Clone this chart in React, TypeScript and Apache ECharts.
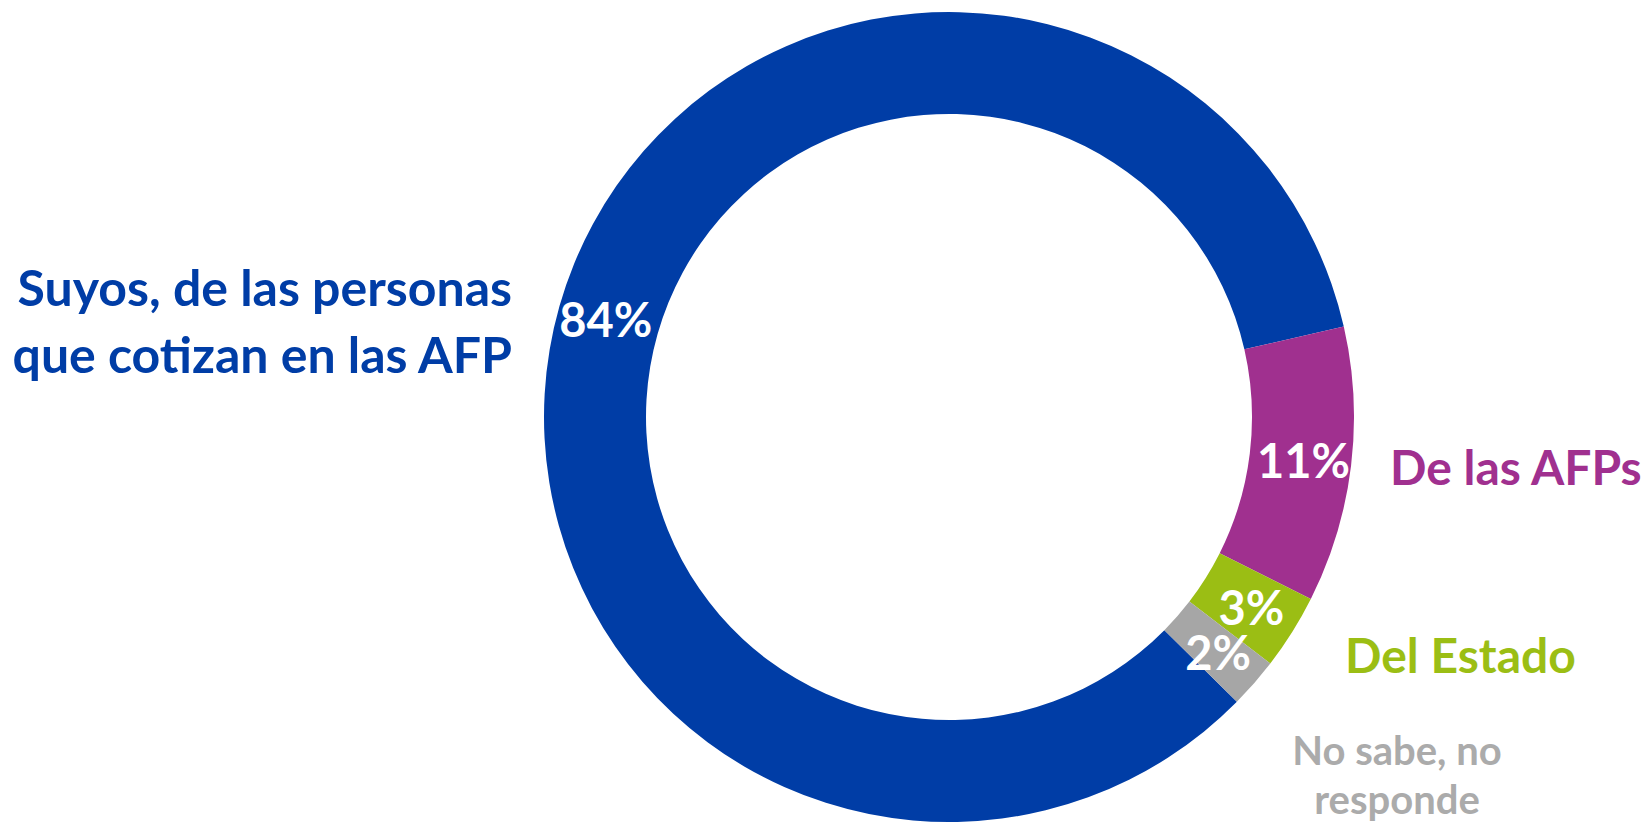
import React, { useEffect, useRef } from "react";
import * as echarts from "echarts";

const categories = ["Suyos, de las personas\nque cotizan en las AFP", "De las AFPs", "Del Estado", "No sabe, no\nresponde"];
const values = [84, 11, 3, 2];
const sliceColors = ["#003DA6", "#A0308F", "#9BBE14", "#A6A6A6"];
const labelColors = ["#003DA6", "#A0308F", "#9BBE14", "#ABABAB"];

export default function App() {
  const ref = useRef<HTMLDivElement>(null);
  useEffect(() => {
    document.body.style.margin = "0";
    const chart = echarts.init(ref.current!, null, { renderer: "svg" });
    const font = "Lato";
    const labelSpecs = [
      { x: 512, y: 320, align: "right", size: 50, lh: 67 },
      { x: 1390, y: 466, align: "left", size: 48, lh: 67 },
      { x: 1345, y: 654, align: "left", size: 48, lh: 67 },
      { x: 1397, y: 774, align: "center", size: 40, lh: 49 },
    ];
    chart.setOption({
      animation: false,
      series: [
        {
          type: "pie",
          center: [949, 417],
          radius: [303, 405],
          startAngle: 315.3,
          clockwise: true,
          silent: true,
          avoidLabelOverlap: false,
          labelLayout: { hideOverlap: false },
          data: categories.map((c, i) => ({
            name: c,
            value: values[i],
            itemStyle: { color: sliceColors[i] },
          })),
          label: {
            show: true,
            position: "inside",
            formatter: "{c}%",
            color: "#ffffff",
            fontFamily: font,
            fontWeight: "bold",
            fontSize: 47,
          },
          labelLine: { show: false },
          emphasis: { disabled: true },
        },
      ],
      graphic: categories.map((c, i) => ({
        type: "text",
        x: labelSpecs[i].x,
        y: labelSpecs[i].y,
        style: {
          text: c,
          fill: labelColors[i],
          font: `bold ${labelSpecs[i].size}px ${font}`,
          textAlign: labelSpecs[i].align,
          textVerticalAlign: "middle",
          lineHeight: labelSpecs[i].lh,
        },
      })),
    });
    return () => chart.dispose();
  }, []);
  return <div ref={ref} style={{ width: 1648, height: 823 }} />;
}
